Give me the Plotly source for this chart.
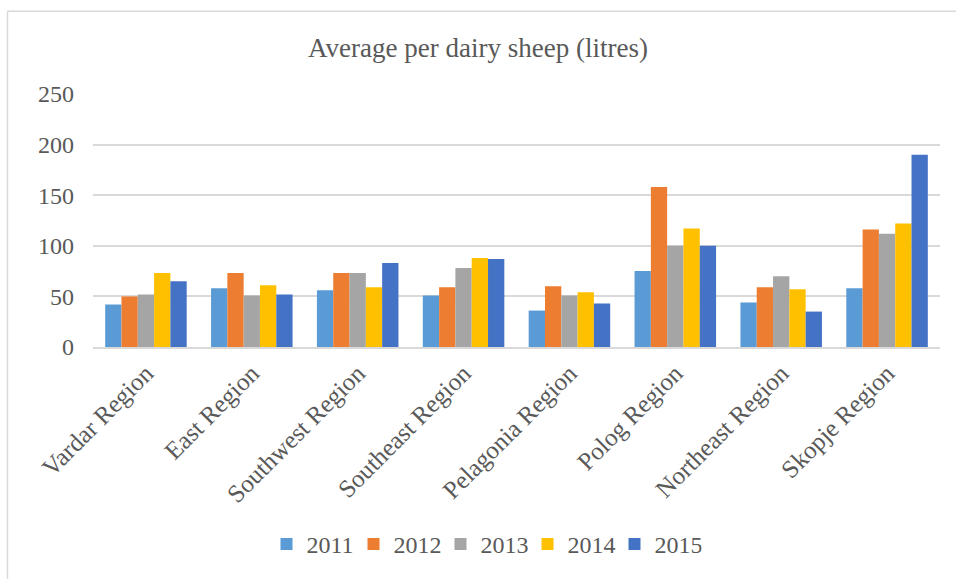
import plotly.graph_objects as go

categories = ["Vardar Region", "East Region", "Southwest Region", "Southeast Region",
              "Pelagonia Region", "Polog Region", "Northeast Region", "Skopje Region"]
years = ["2011", "2012", "2013", "2014", "2015"]
v2011 = [42, 58, 56, 51, 36, 75, 44, 58]
v2012 = [50, 73, 73, 59, 60, 158, 59, 116]
v2013 = [52, 51, 73, 78, 51, 100, 70, 112]
v2014 = [73, 61, 59, 88, 54, 117, 57, 122]
v2015 = [65, 52, 83, 87, 43, 100, 35, 190]
series = [v2011, v2012, v2013, v2014, v2015]
colors = ["#5B9BD5", "#ED7D31", "#A5A5A5", "#FFC000", "#4472C4"]
yticks = [0, 50, 100, 150, 200, 250]

W, H = 956, 579
L, R, T, B = 93, 16, 94, 230
pw, ph = W - L - R, H - T - B

def px_x(px):
    return (px - L) / pw

def px_y(py):
    return (H - B - py) / ph

font = "Liberation Serif"
txt = "#595959"

fig = go.Figure()
for name, vals, c in zip(years, series, colors):
    fig.add_trace(go.Bar(x=categories, y=vals, name=name, marker=dict(color=c, line=dict(width=0))))

fig.update_layout(
    width=W, height=H,
    margin=dict(l=L, r=R, t=T, b=B),
    paper_bgcolor="white", plot_bgcolor="white",
    barmode="group", bargap=0.23, bargroupgap=0,
    font=dict(family=font, color=txt, size=24),
    title=dict(text="Average per dairy sheep (litres)", x=0.5, xanchor="center",
               y=1 - 48 / H, yanchor="middle", yref="container",
               font=dict(family=font, size=27, color=txt)),
    xaxis=dict(tickangle=-45, showgrid=False, showline=True, linecolor="#D9D9D9",
               linewidth=1.5, ticks="", tickfont=dict(family=font, size=25, color=txt)),
    yaxis=dict(range=[0, 250], tickvals=yticks, showgrid=True, gridcolor="#D9D9D9",
               gridwidth=1.5, zeroline=False, showline=False, ticks="",
               ticklabelstandoff=18, tickfont=dict(family=font, size=24, color=txt)),
    legend=dict(orientation="h", x=px_x(484), xanchor="center", y=px_y(548), yanchor="middle",
                font=dict(family=font, size=24, color=txt), entrywidth=42, entrywidthmode="pixels",
                itemclick=False),
    shapes=[
        dict(type="line", xref="paper", yref="paper", x0=px_x(7.5), x1=px_x(960),
             y0=px_y(10.5), y1=px_y(10.5), line=dict(color="#D9D9D9", width=1.5)),
        dict(type="line", xref="paper", yref="paper", x0=px_x(7.5), x1=px_x(7.5),
             y0=px_y(10.5), y1=px_y(585), line=dict(color="#D9D9D9", width=1.5)),
    ],
)

fig.write_html("out.html")
